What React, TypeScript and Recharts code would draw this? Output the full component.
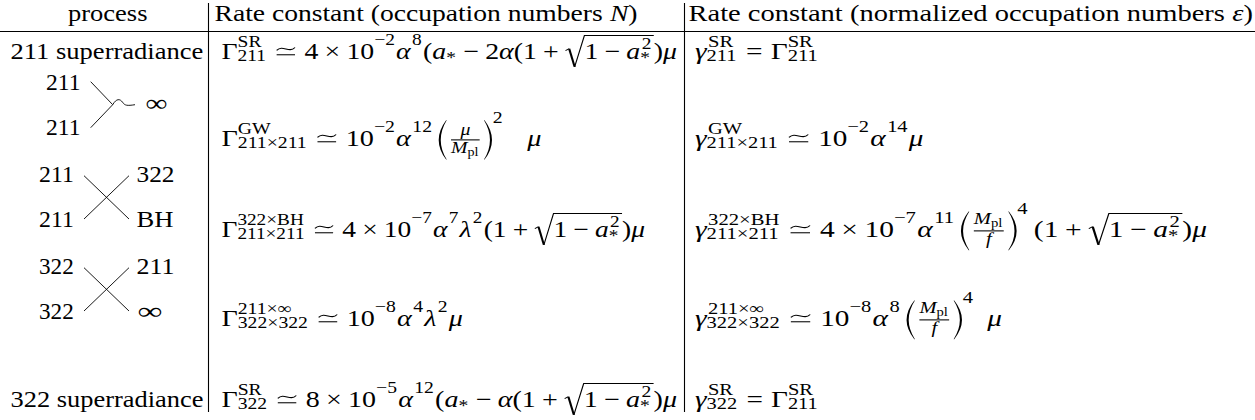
import React from 'react'
import { Surface, Layer } from 'recharts'

// table content
const HEADERS = [
  'process',
  'Rate constant (occupation numbers $N$)',
  'Rate constant (normalized occupation numbers $\\varepsilon$)',
]
const PROCESS_TEXT = ['211 superradiance', '322 superradiance']
const DIAGRAMS = [
  { kind: 'gw', left: ['211', '211'], right: ['∞'] },
  { kind: 'x', left: ['211', '211'], right: ['322', 'BH'] },
  { kind: 'x', left: ['322', '322'], right: ['211', '∞'] },
]
const RATE_N = [
  String.raw`\Gamma^{\mathrm{SR}}_{211}\simeq4\times10^{-2}\alpha^8(a_*-2\alpha(1+\sqrt{1-a_*^2})\mu`,
  String.raw`\Gamma^{\mathrm{GW}}_{211\times211}\simeq10^{-2}\alpha^{12}\left(\frac{\mu}{M_{\mathrm{pl}}}\right)^2\ \ \mu`,
  String.raw`\Gamma^{322\times\mathrm{BH}}_{211\times211}\simeq4\times10^{-7}\alpha^7\lambda^2(1+\sqrt{1-a_*^2})\mu`,
  String.raw`\Gamma^{211\times\infty}_{322\times322}\simeq10^{-8}\alpha^4\lambda^2\mu`,
  String.raw`\Gamma^{\mathrm{SR}}_{322}\simeq8\times10^{-5}\alpha^{12}(a_*-\alpha(1+\sqrt{1-a_*^2})\mu`,
]
const RATE_EPS = [
  String.raw`\gamma^{\mathrm{SR}}_{211}=\Gamma^{\mathrm{SR}}_{211}`,
  String.raw`\gamma^{\mathrm{GW}}_{211\times211}\simeq10^{-2}\alpha^{14}\mu`,
  String.raw`\gamma^{322\times\mathrm{BH}}_{211\times211}\simeq4\times10^{-7}\alpha^{11}\left(\frac{M_{\mathrm{pl}}}{f}\right)^4(1+\sqrt{1-a_*^2})\mu`,
  String.raw`\gamma^{211\times\infty}_{322\times322}\simeq10^{-8}\alpha^8\left(\frac{M_{\mathrm{pl}}}{f}\right)^4\;\mu`,
  String.raw`\gamma^{\mathrm{SR}}_{322}=\Gamma^{\mathrm{SR}}_{211}`,
]

// layout (Liberation Serif is narrower than Computer Modern, so every cell is stretched to its span)
const W = 1255
const H = 420
const FONT = '"Liberation Serif", "Times New Roman", serif'
const FS = 23.5
const HEAD_Y = 21
const RULE_Y = 31.5
const ROW_Y = [59, 146, 237, 326, 407]
const SEP_X = [208.5, 684.5]
const N_X = 221.5
const EPS_X = 695
const N_END = [677, 541.5, 645, 463, 677]
const EPS_END = [819, 923.5, 1207, 1002, 819]
const DIAG_TOP = [90, 182, 274]
const DIAG_GAP = 45

type Cls = 'ord' | 'bin' | 'rel' | 'open' | 'close' | 'inner'
type MNode =
  | { k: 'sym'; text: string; cls: Cls; it: boolean }
  | { k: 'list'; items: MNode[] }
  | { k: 'scr'; base: MNode; sup?: MNode; sub?: MNode }
  | { k: 'frac'; num: MNode; den: MNode }
  | { k: 'sqrt'; body: MNode }
  | { k: 'delim'; body: MNode }
  | { k: 'simeq' }
  | { k: 'space'; em: number }

interface Box {
  w: number
  h: number
  d: number
  cls: Cls
  ch: boolean
  it: boolean
  sp?: boolean
  draw: (x: number, y: number, out: React.ReactNode[]) => void
}

const GREEK: Record<string, [string, boolean]> = {
  '\\Gamma': ['Γ', false],
  '\\gamma': ['γ', true],
  '\\alpha': ['α', true],
  '\\lambda': ['λ', true],
  '\\mu': ['μ', true],
  '\\varepsilon': ['ε', true],
  '\\infty': ['∞', false],
}
const SPACES: Record<string, number> = { '\\,': 3 / 18, '\\;': 5 / 18, '\\ ': 1 / 3, '\\quad': 1 }

function tokenize(s: string) {
  const out: string[] = []
  let i = 0
  while (i < s.length) {
    const c = s[i]
    if (c === ' ') { i++; continue }
    if (c === '\\') {
      let j = i + 1
      while (j < s.length && /[a-zA-Z]/.test(s[j])) j++
      if (j === i + 1) j++
      out.push(s.slice(i, j))
      i = j
      continue
    }
    out.push(c)
    i++
  }
  return out
}

function parseTex(src: string): MNode {
  const t = tokenize(src)
  let p = 0
  const sym = (text: string, cls: Cls, it: boolean): MNode => ({ k: 'sym', text, cls, it })
  const atom = (rm: boolean): MNode => {
    const c = t[p++]
    if (c === '{') return list('}', rm)
    if (c === '\\frac') { const num = atom(rm); const den = atom(rm); return { k: 'frac', num, den } }
    if (c === '\\sqrt') return { k: 'sqrt', body: atom(rm) }
    if (c === '\\mathrm') return atom(true)
    if (c === '\\left') { p++; const body = list('\\right', rm); p++; return { k: 'delim', body } }
    if (c === '\\simeq') return { k: 'simeq' }
    if (c in SPACES) return { k: 'space', em: SPACES[c] }
    if (c === '\\times') return sym('×', 'bin', false)
    if (GREEK[c]) return sym(GREEK[c][0], 'ord', GREEK[c][1])
    if (c === '+') return sym('+', 'bin', false)
    if (c === '-') return sym('−', 'bin', false)
    if (c === '=') return sym('=', 'rel', false)
    if (c === '(') return sym('(', 'open', false)
    if (c === ')') return sym(')', 'close', false)
    if (/[a-zA-Z]/.test(c)) return sym(c, 'ord', !rm)
    return sym(c, 'ord', false)
  }
  const list = (end: string | null, rm: boolean): MNode => {
    const items: MNode[] = []
    while (p < t.length && t[p] !== end) {
      let a = atom(rm)
      while (t[p] === '^' || t[p] === '_') {
        const s = t[p++]
        const arg = atom(rm)
        const sc: any = a.k === 'scr' ? a : { k: 'scr', base: a }
        if (s === '^') sc.sup = arg
        else sc.sub = arg
        a = sc
      }
      // join runs of upright characters ("211", "SR") into one text
      const last = items[items.length - 1]
      if (a.k === 'sym' && !a.it && a.cls === 'ord' && last && last.k === 'sym' && !last.it && last.cls === 'ord' && /^[0-9A-Za-z]+$/.test(last.text + a.text)) {
        items[items.length - 1] = { ...last, text: last.text + a.text }
      } else items.push(a)
    }
    p++
    return { k: 'list', items }
  }
  return list(null, false)
}

let ctx: CanvasRenderingContext2D | null = null
function textWidth(s: string, size: number, it: boolean) {
  if (!ctx) ctx = document.createElement('canvas').getContext('2d')
  if (!ctx) return s.length * size * 0.5
  ctx.font = `${it ? 'italic ' : ''}${size}px ${FONT}`
  return ctx.measureText(s).width
}

const SIZES = [FS, FS * 0.7, FS * 0.5]
const MU = FS / 18

function parenPath(x0: number, top: number, bot: number, pw: number, left: boolean) {
  const mid = (top + bot) / 2
  const ex = left ? x0 + pw * 0.9 : x0 + pw * 0.1
  const om = left ? x0 + pw * 0.08 : x0 + pw * 0.92
  const im = left ? om + 1.7 : om - 1.7
  const e2 = ex + (left ? 0.5 : -0.5)
  return `M${ex},${top} Q${2 * om - ex},${mid} ${ex},${bot} L${e2},${bot} Q${2 * im - e2},${mid} ${e2},${top} Z`
}

function layout(n: MNode, lvl: number, cr: boolean): Box {
  const size = SIZES[lvl]
  switch (n.k) {
    case 'space':
      return { w: n.em * size, h: 0, d: 0, cls: 'ord', ch: false, it: false, sp: true, draw: () => {} }
    case 'sym': {
      const w = textWidth(n.text, size, n.it)
      const tall = n.text.length > 1 || /[0-9A-Zλf()∞*ΓΛ]/.test(n.text)
      const desc = /[γμfpqgjy(),]/.test(n.text)
      const { text, it } = n
      return {
        w, h: (tall ? 0.68 : 0.45) * size, d: desc ? 0.22 * size : 0, cls: n.cls, ch: true, it,
        draw: (x, y, out) => {
          out.push(
            <text key={out.length} x={x} y={y} fontSize={size} fontStyle={it ? 'italic' : 'normal'}
              style={{ whiteSpace: 'pre' }}>{text}</text>,
          )
        },
      }
    }
    case 'list': {
      const boxes = n.items.map((it) => layout(it, lvl, cr))
      const cls = boxes.map((b) => b.cls)
      for (let i = 0; i < cls.length; i++) {
        if (cls[i] !== 'bin') continue
        const prev = i > 0 ? cls[i - 1] : null
        const next = i < cls.length - 1 ? cls[i + 1] : null
        if (!prev || !next || prev === 'bin' || prev === 'open' || prev === 'rel' || next === 'rel' || next === 'close') cls[i] = 'ord'
      }
      const sp = (a: Cls, b: Cls) => {
        if (lvl > 0) return 0
        if (a === 'rel' || b === 'rel') return a === 'open' || b === 'close' ? 0 : 5 * MU
        if (a === 'bin' || b === 'bin') return 4 * MU
        if ((a === 'inner' && b !== 'close') || (b === 'inner' && a !== 'open')) return 3 * MU
        return 0
      }
      let x = 0
      const xs: number[] = []
      let prev = -1
      boxes.forEach((b, i) => {
        if (prev >= 0 && !b.sp) x += sp(cls[prev], cls[i])
        xs.push(x)
        x += b.w
        if (!b.sp) prev = i
      })
      const one = boxes.length === 1
      return {
        w: x,
        h: Math.max(0, ...boxes.map((b) => b.h)),
        d: Math.max(0, ...boxes.map((b) => b.d)),
        cls: one ? boxes[0].cls : 'ord',
        ch: one && boxes[0].ch,
        it: one && boxes[0].it,
        draw: (x0, y0, out) => boxes.forEach((b, i) => b.draw(x0 + xs[i], y0, out)),
      }
    }
    case 'scr': {
      const b = layout(n.base, lvl, cr)
      const sl = Math.min(lvl + 1, 2)
      const ss = SIZES[sl]
      const sup = n.sup ? layout(n.sup, sl, cr) : null
      const sub = n.sub ? layout(n.sub, sl, true) : null
      let u = 0
      let v = 0
      if (!b.ch) { u = b.h - 0.15 * ss; v = b.d + 0.05 * ss }
      if (sup && !sub) u = Math.max(u, (cr ? 0.43 : 0.6) * size)
      else if (sub && !sup) v = Math.max(v, 0.15 * size)
      else if (sup && sub) {
        u = Math.max(u, (cr ? 0.42 : 0.49) * size)
        v = Math.max(v, 0.1 * size)
        const gap = u - sup.d - (sub.h - v)
        if (gap < 0.1 * size) v += 0.1 * size - gap
      }
      const kern = b.it ? 0.05 * size : 0
      const w = b.w + Math.max(sup ? sup.w + kern : 0, sub ? sub.w : 0) + 1
      return {
        w,
        h: Math.max(b.h, sup ? u + sup.h : 0),
        d: Math.max(b.d, sub ? v + sub.d : 0),
        cls: b.cls, ch: false, it: false,
        draw: (x, y, out) => {
          b.draw(x, y, out)
          if (sup) sup.draw(x + b.w + kern, y - u, out)
          if (sub) sub.draw(x + b.w, y + v, out)
        },
      }
    }
    case 'frac': {
      const sl = Math.min(lvl + 1, 2)
      const num = layout(n.num, sl, cr)
      const den = layout(n.den, sl, true)
      const axis = 0.26 * size
      const th = 0.045 * size
      const u = Math.max(0.4 * size, axis + th * 1.5 + num.d)
      const v = Math.max(0.3 * size, den.h - axis + th * 1.5)
      const pad = 0.1 * size
      const inner = Math.max(num.w, den.w)
      return {
        w: inner + 2 * pad, h: u + num.h, d: v + den.d, cls: 'inner', ch: false, it: false,
        draw: (x, y, out) => {
          num.draw(x + pad + (inner - num.w) / 2, y - u, out)
          den.draw(x + pad + (inner - den.w) / 2, y + v, out)
          out.push(<rect key={out.length} x={x + pad} y={y - axis - th / 2} width={inner} height={th} fill="#000" />)
        },
      }
    }
    case 'sqrt': {
      const body = layout(n.body, lvl, true)
      const R = 0.7 * size
      const top = body.h + 0.1 * size
      const bot = body.d + 0.18 * size
      const w = R + body.w + 1
      return {
        w, h: top + 0.5, d: bot, cls: 'ord', ch: false, it: false,
        draw: (x, y, out) => {
          const k = out.length
          out.push(
            <path key={k} d={`M${x + 0.5},${y - 0.36 * size} L${x + 0.22 * R},${y - 0.44 * size}`} stroke="#000" strokeWidth={0.9} fill="none" />,
            <path key={k + 1} d={`M${x + 0.22 * R},${y - 0.44 * size} L${x + 0.5 * R},${y + bot}`} stroke="#000" strokeWidth={1.8} fill="none" />,
            <path key={k + 2} d={`M${x + 0.5 * R},${y + bot} L${x + R},${y - top} L${x + w},${y - top}`} stroke="#000" strokeWidth={0.95} fill="none" />,
          )
          body.draw(x + R, y, out)
        },
      }
    }
    case 'delim': {
      const body = layout(n.body, lvl, cr)
      const axis = 0.26 * size
      const delta = Math.max(body.h - axis, body.d + axis)
      const hh = delta + 1.5
      const top = axis + hh
      const bot = hh - axis
      const pw = 0.32 * size
      const w = pw + 1 + body.w + 1 + pw
      return {
        w, h: top, d: bot, cls: 'inner', ch: false, it: false,
        draw: (x, y, out) => {
          out.push(<path key={out.length} d={parenPath(x, y - top, y + bot, pw, true)} fill="#000" />)
          body.draw(x + pw + 1, y, out)
          out.push(<path key={out.length} d={parenPath(x + w - pw, y - top, y + bot, pw, false)} fill="#000" />)
        },
      }
    }
    case 'simeq': {
      const w = 0.78 * size
      const gw = 0.66 * size
      const c = -0.43 * size
      return {
        w, h: 0.5 * size, d: 0, cls: 'rel', ch: true, it: false,
        draw: (x, y, out) => {
          const a = x + 0.06 * size
          const k = out.length
          out.push(
            <path key={k} d={`M${a},${y + c + 1.4} C${a + gw * 0.35},${y + c - 4.6} ${a + gw * 0.65},${y + c + 4.6} ${a + gw},${y + c - 1.4}`} stroke="#000" strokeWidth={1.05} fill="none" />,
            <path key={k + 1} d={`M${a},${y - 0.18 * size} L${a + gw},${y - 0.18 * size}`} stroke="#000" strokeWidth={1.05} fill="none" />,
          )
        },
      }
    }
  }
}

const textBox = (s: string) => layout({ k: 'sym', text: s, cls: 'ord', it: false }, 0, false)

// "Rate constant ($N$)" style header: text runs and inline math
function mixedBox(s: string): Box {
  const parts = s.split('$')
  const boxes = parts.map((part, i) => (i % 2 ? layout(parseTex(part), 0, false) : textBox(part)))
  const xs: number[] = []
  let x = 0
  boxes.forEach((b) => { xs.push(x); x += b.w })
  return {
    w: x, h: Math.max(...boxes.map((b) => b.h)), d: Math.max(...boxes.map((b) => b.d)), cls: 'ord', ch: false, it: false,
    draw: (x0, y0, out) => boxes.forEach((b, i) => b.draw(x0 + xs[i], y0, out)),
  }
}

export default function App() {
  const cells: React.ReactNode[] = []
  const lines: React.ReactNode[] = []
  // draw a box so that it spans x0..x1 on baseline y
  const fit = (box: Box, x0: number, x1: number, y: number) => {
    const sx = (x1 - x0) / box.w
    const out: React.ReactNode[] = []
    box.draw(0, 0, out)
    cells.push(<g key={cells.length} transform={`translate(${x0},${y}) scale(${sx},1)`}>{out}</g>)
  }
  const seg = (x1: number, y1: number, x2: number, y2: number, sw = 0.9) => {
    lines.push(<line key={lines.length} x1={x1} y1={y1} x2={x2} y2={y2} stroke="#000" strokeWidth={sw} />)
  }

  // header
  fit(textBox(HEADERS[0]), 68, 147.5, HEAD_Y)
  fit(mixedBox(HEADERS[1]), 214.5, 637.5, HEAD_Y)
  fit(mixedBox(HEADERS[2]), 688.5, 1253, HEAD_Y)

  // process column
  fit(textBox(PROCESS_TEXT[0]), 10.5, 203.5, ROW_Y[0])
  fit(textBox(PROCESS_TEXT[1]), 10.5, 203.5, ROW_Y[4])
  DIAGRAMS.forEach((dg, i) => {
    const t = DIAG_TOP[i]
    const b = t + DIAG_GAP
    if (dg.kind === 'gw') {
      fit(textBox(dg.left[0]), 46, 80.5, t)
      fit(textBox(dg.left[1]), 46, 80.5, b)
      const y1 = t - 8.3
      const y2 = b - 7.3
      const vy = (y1 + y2) / 2
      seg(90.7, y1, 112.7, vy)
      seg(90.7, y2, 112.7, vy)
      lines.push(
        <path key={lines.length} d={`M112.7,${vy} C116.5,${vy - 6.5} 120,${vy - 6} 122.5,${vy - 2.5} S127,${vy + 1.2} 135,${vy}`}
          stroke="#000" strokeWidth={0.9} fill="none" />,
      )
      fit(textBox(dg.right[0]), 145.5, 167.5, vy + 6)
    } else {
      fit(textBox(dg.left[0]), 39, 73.8, t)
      fit(textBox(dg.left[1]), 39, 73.8, b)
      seg(84, t - 6.3, 129, b - 8)
      seg(84, b - 8, 129, t - 6.3)
      dg.right.forEach((lab, j) => {
        const end = lab === '∞' ? 162.5 : lab === 'BH' ? 173.5 : 174.5
        fit(textBox(lab), lab === '∞' ? 137.5 : 136.5, end, j ? b : t)
      })
    }
  })

  // rate columns
  RATE_N.forEach((tex, i) => fit(layout(parseTex(tex), 0, false), N_X, N_END[i], ROW_Y[i]))
  RATE_EPS.forEach((tex, i) => fit(layout(parseTex(tex), 0, false), EPS_X, EPS_END[i], ROW_Y[i]))

  // rules
  seg(0, RULE_Y, W, RULE_Y, 1.1)
  seg(SEP_X[0], 3, SEP_X[0], 412, 1.1)
  seg(SEP_X[1], 3, SEP_X[1], 412, 1.1)

  return (
    <div style={{ position: 'absolute', left: 0, top: 0, width: W, height: H, background: '#fff' }}>
      <Surface width={W} height={H}>
        <Layer>{lines}</Layer>
        <g fontFamily={FONT} fill="#000">{cells}</g>
      </Surface>
    </div>
  )
}
